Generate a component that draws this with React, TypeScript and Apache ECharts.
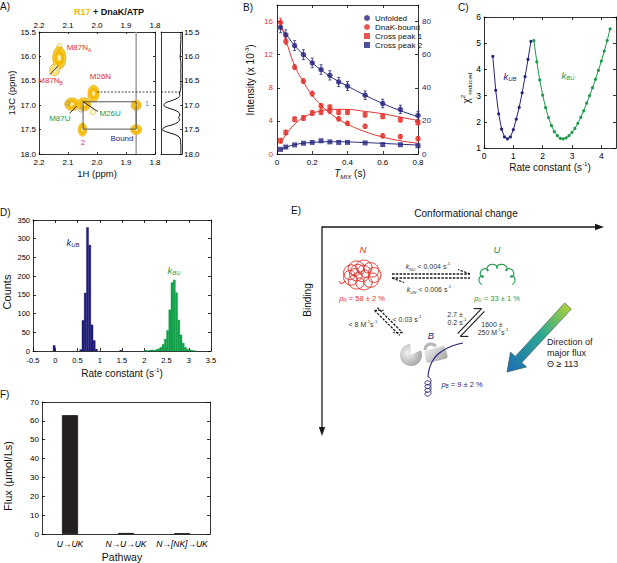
import React, { useEffect, useRef } from 'react';
import * as echarts from 'echarts';

const FONT = 'Liberation Sans, Arial, Helvetica, sans-serif';
const RED = '#E2302A';
const NAVY = '#26247C';
const GREEN = '#1E9A4A';
const GOLD = '#F6B900';
const CYAN = '#2AA7DF';
const MAGENTA = '#D8328A';

// ---------- Panel A: 2D spectrum (1H ppm, 13C ppm, 1H width, 13C width, kind) ----------
const peaksA = [
  [2.13, 16.03, 0.045, 0.46, 0],
  [2.146, 16.28, 0.034, 0.24, 3],
  [2.13, 15.8, 0.017, 0.12, 1],
  [2.012, 16.76, 0.038, 0.34, 0],
  [2.086, 16.98, 0.05, 0.26, 0],
  [2.045, 16.98, 0.048, 0.26, 0],
  [2.05, 17.5, 0.028, 0.27, 0],
  [1.865, 17.0, 0.034, 0.2, 0],
  [1.865, 17.5, 0.038, 0.2, 0],
  [2.1, 16.96, 0.017, 0.08, 2],
  [2.055, 17.1, 0.017, 0.08, 2],
  [2.014, 17.14, 0.017, 0.1, 1],
];
const labelTextA = ['{n|M87N}{sub|A}', '{n|M87N}{sub|B}', '{n|M26N}', '{n|M87U}', '{n|M26U}', '{n|1}', '{n|2}', '{n|Bound}'];
const labelColorA = [RED, RED, RED, GREEN, GREEN, CYAN, MAGENTA, NAVY];
const labelPosA = [
  [2.062, 15.81], [2.16, 16.49], [1.988, 16.42], [2.128, 17.27], [1.955, 17.17], [1.828, 16.97], [2.048, 17.76], [1.914, 17.68],
];
const boxA = [[2.048, 16.93], [1.865, 16.93], [1.865, 17.49], [2.048, 17.49], [2.048, 16.93]];
const slice1H = [[1.865, 15.5], [1.865, 18.0]];
const dashA = [[2.0, 16.73], [1.8, 16.73]];
const dashSide = [[1, 16.73], [0, 16.73]];
const connectorsA = [
  [[2.162, 16.37], [2.135, 16.2]],
  [[2.095, 17.17], [2.07, 17.02]],
  [[2.048, 16.93], [1.997, 17.13]],
];
const sidePpm = [15.5, 15.6, 15.7, 15.8, 15.9, 16.0, 16.1, 16.2, 16.3, 16.4, 16.5, 16.6, 16.7, 16.75, 16.8, 16.85, 16.9, 16.95, 17.0, 17.05, 17.1, 17.15, 17.2, 17.25, 17.3, 17.35, 17.4, 17.45, 17.5, 17.55, 17.6, 17.65, 17.7, 17.8, 17.9, 18.0];
const sideInt = [0.06, 0.05, 0.06, 0.07, 0.06, 0.09, 0.06, 0.05, 0.06, 0.05, 0.06, 0.05, 0.08, 0.12, 0.1, 0.2, 0.45, 0.78, 0.86, 0.7, 0.35, 0.15, 0.1, 0.16, 0.12, 0.2, 0.45, 0.82, 0.94, 0.72, 0.35, 0.14, 0.08, 0.06, 0.05, 0.06];

// ---------- Panel B: intensities vs mixing time ----------
const tB = [0.02, 0.05, 0.1, 0.15, 0.2, 0.25, 0.3, 0.35, 0.4, 0.5, 0.6, 0.7, 0.8];
const unfolded = [76.5, 72, 65.5, 60, 55, 51, 47.5, 43.5, 41, 35.5, 30.5, 27, 23.3];
const unfoldedErr = [3.2, 3, 3, 3, 2.9, 2.9, 2.8, 2.8, 2.7, 2.6, 2.6, 2.5, 2.5];
const dnakBound = [15.9, 13.6, 10.5, 8.8, 7.3, 5.8, 5.2, 4.25, 3.7, 3.35, 2.2, 2.1, 1.85];
const dnakErr = [0.5, 0.4, 0.3, 0.3, 0.3, 0.3, 0.3, 0.25, 0.25, 0.25, 0.25, 0.25, 0.25];
const cross1 = [1.6, 2.6, 4.2, 4.35, 4.95, 5.05, 5.65, 5.05, 5.05, 4.75, 4.55, 4.15, 3.8];
const cross1Err = [0.3, 0.3, 0.3, 0.3, 0.3, 0.3, 0.3, 0.3, 0.3, 0.3, 0.3, 0.3, 0.3];
const cross2 = [2.8, 4.2, 5.5, 6.5, 7, 8, 7.3, 7, 7, 6.7, 5.7, 5.6, 5];
const unfoldedFit = [76.5, 72.5, 65.5, 60, 55, 50.8, 47, 43.8, 41, 35.5, 30.5, 26.2, 22.5];
const boundFit = [15.8, 13.8, 10.7, 8.7, 7.1, 5.9, 4.95, 4.2, 3.6, 2.7, 2.05, 1.6, 1.3];
const cross1Fit = [1.3, 2.3, 3.6, 4.4, 4.9, 5.2, 5.35, 5.4, 5.38, 5.15, 4.85, 4.45, 4.05];
const cross2Fit = [2.5, 4, 5.6, 6.5, 7.0, 7.3, 7.4, 7.4, 7.3, 6.9, 6.4, 5.9, 5.4];

// ---------- Panel C: chi-square profiles ----------
const kUBx = [0.3, 0.4, 0.5, 0.6, 0.7, 0.8, 0.9, 1.0, 1.1, 1.2, 1.3, 1.4, 1.5, 1.6];
const kUBchi = [4.5, 3.2, 2.3, 1.72, 1.42, 1.35, 1.42, 1.7, 2.1, 2.55, 3.1, 3.72, 4.38, 5.07];
const kBUx = [1.7, 1.8, 1.9, 2.0, 2.1, 2.2, 2.3, 2.4, 2.5, 2.6, 2.7, 2.8, 2.9, 3.0, 3.1, 3.2, 3.3, 3.4, 3.5, 3.6, 3.7, 3.8, 3.9, 4.0, 4.1, 4.2, 4.3];
const kBUchi = [5.1, 4.29, 3.6, 3.02, 2.54, 2.16, 1.85, 1.62, 1.47, 1.37, 1.35, 1.39, 1.47, 1.6, 1.75, 1.94, 2.17, 2.42, 2.71, 3.0, 3.3, 3.62, 3.96, 4.32, 4.7, 5.1, 5.55];

// ---------- Panel D: histograms (bin start, count), bin width 0.05 ----------
const BIN = 0.05;
const kUBbinStart = [-0.05, 0.55, 0.6, 0.65, 0.7, 0.75, 0.8, 0.85, 0.9, 1.45];
const kUBcounts = [15, 4, 82, 155, 330, 283, 70, 28, 5, 2];
const kBUbinStart = [2.0, 2.05, 2.1, 2.15, 2.2, 2.25, 2.3, 2.35, 2.4, 2.45, 2.5, 2.55, 2.6, 2.65, 2.7, 2.75, 2.8, 2.85, 2.9, 2.95, 3.0, 3.05, 3.1];
const kBUcounts = [2, 1, 2, 3, 2, 4, 6, 10, 18, 32, 55, 110, 183, 190, 156, 83, 43, 21, 10, 5, 3, 2, 1];

// ---------- Panel F: flux per pathway ----------
const fluxCats = ['U→UK', 'N→U→UK', 'N→[NK]→UK'];
const fluxVals = [63, 0.5, 0.4];

const richSet = (size: number, color: string) => ({
  n: { fontSize: size, fill: color, color, fontFamily: FONT, lineHeight: size + 3 },
  b: { fontSize: size, fill: color, color, fontFamily: FONT, fontWeight: 'bold', lineHeight: size + 3 },
  g: { fontSize: size, fill: GOLD, color: GOLD, fontFamily: FONT, fontWeight: 'bold', lineHeight: size + 3 },
  i: { fontSize: size, fill: color, color, fontFamily: FONT, fontStyle: 'italic', lineHeight: size + 3 },
  sup: { fontSize: size * 0.62, fill: color, color, fontFamily: FONT, verticalAlign: 'top', lineHeight: size * 0.62 },
  sub: { fontSize: size * 0.62, fill: color, color, fontFamily: FONT, verticalAlign: 'bottom', lineHeight: size * 0.62 },
  subi: { fontSize: size * 0.62, fill: color, color, fontFamily: FONT, fontStyle: 'italic', verticalAlign: 'bottom', lineHeight: size * 0.62 },
});

const txt = (text: string, x: number, y: number, size: number, color = '#111', opts: any = {}) => ({
  type: 'text',
  x,
  y,
  rotation: opts.rotation || 0,
  z: 50,
  style: {
    text,
    rich: richSet(size, color),
    fontSize: size,
    fontFamily: FONT,
    fill: color,
    align: opts.align || 'center',
    verticalAlign: opts.verticalAlign || 'middle',
  },
});

function loopPts(base: (t: number) => number[], n: number, r: number, steps: number, phase = 0) {
  const pts: number[][] = [];
  for (let i = 0; i <= steps; i++) {
    const t = i / steps;
    const b = base(t);
    const th = 2 * Math.PI * n * t + phase;
    pts.push([b[0] + r * Math.cos(th), b[1] + r * Math.sin(th)]);
  }
  return pts;
}

function arrowPolygon(tx: number, ty: number, hx: number, hy: number, bodyHalf: number, headHalf: number, headLen: number) {
  const dx = hx - tx, dy = hy - ty;
  const L = Math.hypot(dx, dy);
  const ux = dx / L, uy = dy / L;
  const nx = -uy, ny = ux;
  const bx = hx - headLen * ux, by = hy - headLen * uy;
  return [
    [tx + bodyHalf * nx, ty + bodyHalf * ny],
    [bx + bodyHalf * nx, by + bodyHalf * ny],
    [bx + headHalf * nx, by + headHalf * ny],
    [hx, hy],
    [bx - headHalf * nx, by - headHalf * ny],
    [bx - bodyHalf * nx, by - bodyHalf * ny],
    [tx - bodyHalf * nx, ty - bodyHalf * ny],
  ];
}

const axisLineStyle = { color: '#000', width: 0.8 };

function valAxis(gridIndex: number, position: string, min: number, max: number, interval: number, opts: any = {}) {
  return {
    type: 'value',
    gridIndex,
    position,
    min,
    max,
    interval,
    inverse: !!opts.inverse,
    axisLine: { show: true, onZero: false, lineStyle: axisLineStyle },
    axisTick: { show: opts.ticks !== false, inside: true, length: opts.tickLen || 3, lineStyle: axisLineStyle },
    splitLine: { show: false },
    axisLabel: {
      show: !!opts.labels,
      fontSize: opts.fontSize || 8,
      color: opts.color || '#000',
      fontFamily: FONT,
      margin: opts.margin ?? 3,
      showMaxLabel: opts.showMax ?? true,
      formatter: opts.formatter,
    },
  };
}

function catAxis(gridIndex: number, position: string, labels: boolean) {
  return {
    type: 'category',
    gridIndex,
    position,
    data: fluxCats,
    axisLine: { show: true, onZero: false, lineStyle: axisLineStyle },
    axisTick: { show: false },
    axisLabel: { show: labels, interval: 0, hideOverlap: false, fontSize: 8.5, fontStyle: 'italic', color: '#000', fontFamily: FONT, margin: 5 },
  };
}

const fmt1 = (v: number) => v.toFixed(1);

function buildOption() {
  const xAxis = [
    valAxis(0, 'bottom', 1.8, 2.2, 0.1, { inverse: true, labels: true, formatter: fmt1, tickLen: 2, margin: 4 }),
    valAxis(0, 'top', 1.8, 2.2, 0.1, { inverse: true, labels: true, formatter: fmt1, tickLen: 2, margin: 3 }),
    valAxis(1, 'bottom', 0, 1, 1, { inverse: true, ticks: false }),
    valAxis(1, 'top', 0, 1, 1, { inverse: true, ticks: false }),
    valAxis(2, 'bottom', 0, 0.8, 0.2, { labels: true, margin: 4 }),
    valAxis(2, 'top', 0, 0.8, 0.2, {}),
    valAxis(3, 'bottom', 0, 4.5, 1, { labels: true, showMax: false, fontSize: 8.5, margin: 3 }),
    valAxis(3, 'top', 0, 4.5, 1, {}),
    valAxis(4, 'bottom', -0.5, 3.5, 0.5, { labels: true, fontSize: 7.5, margin: 5 }),
    valAxis(4, 'top', -0.5, 3.5, 0.5, {}),
    catAxis(5, 'bottom', true),
    catAxis(5, 'top', false),
  ];
  const yAxis = [
    valAxis(0, 'left', 15.5, 18, 0.5, { inverse: true, labels: true, formatter: fmt1, tickLen: 2, margin: 3 }),
    valAxis(0, 'right', 15.5, 18, 0.5, { inverse: true, tickLen: 2 }),
    valAxis(1, 'left', 15.5, 18, 0.5, { inverse: true, ticks: false }),
    valAxis(1, 'right', 15.5, 18, 0.5, { inverse: true, labels: true, formatter: fmt1, tickLen: 2, margin: 2 }),
    valAxis(2, 'left', 0, 18, 4, { labels: true, color: RED, showMax: false, margin: 4 }),
    valAxis(2, 'right', 0, 90, 20, { labels: true, color: NAVY, showMax: false, margin: 4 }),
    valAxis(3, 'left', 1, 6, 1, { labels: true, fontSize: 8.5, margin: 3 }),
    valAxis(3, 'right', 1, 6, 1, {}),
    valAxis(4, 'left', 0, 350, 50, { labels: true, fontSize: 7.5, margin: 3 }),
    valAxis(4, 'right', 0, 350, 50, {}),
    valAxis(5, 'left', 0, 70, 10, { labels: true, fontSize: 8, margin: 3 }),
    valAxis(5, 'right', 0, 70, 10, {}),
  ];

  const errRender = (color: string) => (params: any, api: any) => {
    const x = api.value(0), y = api.value(1), e = api.value(2);
    const top = api.coord([x, y + e]);
    const bot = api.coord([x, y - e]);
    const cap = 1.5;
    const st = { stroke: color, lineWidth: 0.8 };
    return {
      type: 'group',
      children: [
        { type: 'line', shape: { x1: top[0], y1: top[1], x2: bot[0], y2: bot[1] }, style: st },
        { type: 'line', shape: { x1: top[0] - cap, y1: top[1], x2: top[0] + cap, y2: top[1] }, style: st },
        { type: 'line', shape: { x1: bot[0] - cap, y1: bot[1], x2: bot[0] + cap, y2: bot[1] }, style: st },
      ],
    };
  };

  const histRender = (color: string) => (params: any, api: any) => {
    const x0 = api.value(0), cnt = api.value(1);
    const p0 = api.coord([x0, cnt]);
    const p1 = api.coord([x0 + BIN, 0]);
    return {
      type: 'rect',
      shape: { x: p0[0], y: p0[1], width: p1[0] - p0[0], height: p1[1] - p0[1] },
      style: { fill: color, stroke: color, lineWidth: 0.3 },
    };
  };

  const peakRender = (params: any, api: any) => {
    const x = api.value(0), y = api.value(1), wx = api.value(2), wy = api.value(3), kind = api.value(4);
    const c = api.coord([x, y]);
    const s = api.size([wx, wy], [x, y]);
    const rx = Math.abs(s[0]) / 2, ry = Math.abs(s[1]) / 2;
    const el = (k: number, style: any) => ({ type: 'ellipse', shape: { cx: c[0], cy: c[1], rx: rx * k, ry: ry * k }, style });
    if (kind === 1) return el(1, { fill: 'none', stroke: '#EEB300', lineWidth: 0.8 });
    if (kind === 2) return el(1, { fill: 'none', stroke: '#9C9C9C', lineWidth: 0.8 });
    if (kind === 3)
      return {
        type: 'group',
        children: [
          el(1, { fill: '#FCE6A0', stroke: '#EDB300', lineWidth: 0.8 }),
          el(0.55, { fill: '#FDF0C4', stroke: '#EDB300', lineWidth: 0.6 }),
        ],
      };
    return {
      type: 'group',
      children: [
        el(1, { fill: '#F9CB35', stroke: '#E7A900', lineWidth: 0.8 }),
        el(0.66, { fill: '#F6BC00', stroke: '#E7A900', lineWidth: 0.5 }),
        el(0.3, { fill: '#FDE9A2', stroke: 'none' }),
      ],
    };
  };

  const labelRender = (params: any, api: any) => {
    const idx = api.value(2);
    const c = api.coord([api.value(0), api.value(1)]);
    return {
      type: 'text',
      x: c[0],
      y: c[1],
      style: {
        text: labelTextA[idx],
        rich: richSet(8, labelColorA[idx]),
        fill: labelColorA[idx],
        fontSize: 8,
        fontFamily: FONT,
        align: 'center',
        verticalAlign: 'middle',
      },
    };
  };

  const circle = { symbol: 'circle', symbolSize: 5.5 };
  const square = { symbol: 'rect', symbolSize: 5 };

  const series: any[] = [
    // Panel A
    { type: 'custom', xAxisIndex: 0, yAxisIndex: 0, clip: true, renderItem: peakRender, data: peaksA, z: 2, silent: true },
    { type: 'line', xAxisIndex: 0, yAxisIndex: 0, data: slice1H, symbol: 'none', lineStyle: { color: '#A0A0A0', width: 1.5 }, z: 1, silent: true },
    { type: 'line', xAxisIndex: 0, yAxisIndex: 0, data: boxA, symbol: 'none', lineStyle: { color: '#555', width: 1 }, z: 3, silent: true },
    { type: 'line', xAxisIndex: 0, yAxisIndex: 0, data: dashA, symbol: 'none', lineStyle: { color: '#111', width: 0.8, type: [2, 1.5] }, z: 3, silent: true },
    { type: 'lines', coordinateSystem: 'cartesian2d', xAxisIndex: 0, yAxisIndex: 0, data: connectorsA.map((c) => ({ coords: c })), lineStyle: { color: '#000', width: 0.8, opacity: 1 }, z: 4, silent: true },
    { type: 'custom', xAxisIndex: 0, yAxisIndex: 0, renderItem: labelRender, data: labelPosA.map((p, i) => [p[0], p[1], i]), z: 5, silent: true },
    { type: 'line', xAxisIndex: 2, yAxisIndex: 2, data: sidePpm.map((p, i) => [sideInt[i], p]), symbol: 'none', smooth: 0.4, lineStyle: { color: '#111', width: 1 }, silent: true },
    { type: 'line', xAxisIndex: 2, yAxisIndex: 2, data: dashSide, symbol: 'none', lineStyle: { color: '#111', width: 0.8, type: [2, 1.5] }, silent: true },

    // Panel B fits
    { type: 'line', name: 'fitU', xAxisIndex: 4, yAxisIndex: 5, data: tB.map((t, i) => [t, unfoldedFit[i]]), symbol: 'none', smooth: true, lineStyle: { color: NAVY, width: 1 }, z: 2, silent: true },
    { type: 'line', name: 'fitB', xAxisIndex: 4, yAxisIndex: 4, data: tB.map((t, i) => [t, boundFit[i]]), symbol: 'none', smooth: true, lineStyle: { color: RED, width: 1 }, z: 2, silent: true },
    { type: 'line', name: 'fit1', xAxisIndex: 4, yAxisIndex: 4, data: tB.map((t, i) => [t, cross1Fit[i]]), symbol: 'none', smooth: true, lineStyle: { color: RED, width: 1 }, z: 2, silent: true },
    { type: 'line', name: 'fit2', xAxisIndex: 4, yAxisIndex: 5, data: tB.map((t, i) => [t, cross2Fit[i]]), symbol: 'none', smooth: true, lineStyle: { color: NAVY, width: 1 }, z: 2, silent: true },
    // error bars
    { type: 'custom', xAxisIndex: 4, yAxisIndex: 5, renderItem: errRender(NAVY), data: tB.map((t, i) => [t, unfolded[i], unfoldedErr[i]]), z: 3, silent: true },
    { type: 'custom', xAxisIndex: 4, yAxisIndex: 4, renderItem: errRender(RED), data: tB.map((t, i) => [t, dnakBound[i], dnakErr[i]]), z: 3, silent: true },
    { type: 'custom', xAxisIndex: 4, yAxisIndex: 4, renderItem: errRender(RED), data: tB.map((t, i) => [t, cross1[i], cross1Err[i]]), z: 3, silent: true },
    // points
    { type: 'scatter', name: 'Unfolded', xAxisIndex: 4, yAxisIndex: 5, data: tB.map((t, i) => [t, unfolded[i]]), ...circle, itemStyle: { color: NAVY }, z: 4 },
    { type: 'scatter', name: 'DnaK-bound', xAxisIndex: 4, yAxisIndex: 4, data: tB.map((t, i) => [t, dnakBound[i]]), ...circle, itemStyle: { color: RED }, z: 4 },
    { type: 'scatter', name: 'Cross peak 1', xAxisIndex: 4, yAxisIndex: 4, data: tB.map((t, i) => [t, cross1[i]]), ...square, itemStyle: { color: RED }, z: 4 },
    { type: 'scatter', name: 'Cross peak 2', xAxisIndex: 4, yAxisIndex: 5, data: tB.map((t, i) => [t, cross2[i]]), ...square, itemStyle: { color: NAVY }, z: 4 },

    // Panel C
    { type: 'line', xAxisIndex: 6, yAxisIndex: 6, data: kUBx.map((x, i) => [x, kUBchi[i]]), symbol: 'circle', symbolSize: 3.2, lineStyle: { color: NAVY, width: 1 }, itemStyle: { color: NAVY }, silent: true },
    { type: 'line', xAxisIndex: 6, yAxisIndex: 6, data: kBUx.map((x, i) => [x, kBUchi[i]]), symbol: 'circle', symbolSize: 3.2, lineStyle: { color: GREEN, width: 1 }, itemStyle: { color: GREEN }, silent: true },

    // Panel D
    { type: 'custom', xAxisIndex: 8, yAxisIndex: 8, renderItem: histRender('#201C78'), data: kUBbinStart.map((x, i) => [x, kUBcounts[i]]), silent: true },
    { type: 'custom', xAxisIndex: 8, yAxisIndex: 8, renderItem: histRender('#14A04A'), data: kBUbinStart.map((x, i) => [x, kBUcounts[i]]), silent: true },

    // Panel F
    { type: 'bar', xAxisIndex: 10, yAxisIndex: 10, data: fluxVals, barWidth: 16, itemStyle: { color: '#231F20', borderColor: '#000', borderWidth: 0.6 }, silent: true },
  ];

  // ---------- Panel E diagram ----------
  const nRing1 = loopPts((t) => [362 + 13 * Math.cos(2 * Math.PI * t), 275 + 9 * Math.sin(2 * Math.PI * t)], 10, 6, 420);
  const nRing2 = loopPts((t) => [360 + 6 * Math.cos(2 * Math.PI * t + 1), 273 + 4 * Math.sin(2 * Math.PI * t + 1)], 5, 5, 220, 1);
  const uArc = loopPts((t) => {
    const th = 3.49 - 3.84 * t;
    return [497 + 16 * Math.cos(th), 278 - 12 * Math.sin(th)];
  }, 6, 2.3, 260, Math.PI / 2);
  const chainTop = [[463, 343], [452, 346], [444, 350], [437, 355], [432, 362], [429, 370], [428, 377]];
  const chainCoil = loopPts((t) => [428, 380 + 15 * t], 4, 3, 140, -Math.PI / 2);
  const fluxArrow = arrowPolygon(568, 306, 507, 372, 4.5, 11, 17);

  const blk = '#1A1A1A';
  const ln = (x1: number, y1: number, x2: number, y2: number, dashed: boolean, w = 1.1) => ({
    type: 'line',
    z: 40,
    shape: { x1, y1, x2, y2 },
    style: { stroke: blk, lineWidth: w, lineDash: dashed ? [2.5, 1.3] : null },
  });

  const graphic: any[] = [
    // panel letters
    txt('{n|A)}', 0, 0, 10, '#111', { align: 'left', verticalAlign: 'top' }),
    txt('{n|B)}', 243, 1, 10, '#111', { align: 'left', verticalAlign: 'top' }),
    txt('{n|C)}', 458, 1, 10, '#111', { align: 'left', verticalAlign: 'top' }),
    txt('{n|D)}', 0, 206, 10, '#111', { align: 'left', verticalAlign: 'top' }),
    txt('{n|E)}', 291, 204, 10, '#111', { align: 'left', verticalAlign: 'top' }),
    txt('{n|F)}', 0, 388, 10, '#111', { align: 'left', verticalAlign: 'top' }),
    // Panel A texts
    txt('{g|R17}{b| + DnaK/ATP}', 109, 12, 9, '#111'),
    txt('{n|1H (ppm)}', 97, 173, 9.5, '#111'),
    txt('{n|13C (ppm)}', 11, 93, 9.5, '#111', { rotation: Math.PI / 2 }),
    // Panel B texts
    txt('{n|Intensity (x 10}{sup|-3}{n|)}', 250, 80, 10, '#111', { rotation: Math.PI / 2 }),
    txt('{i|T}{subi|MIX}{n| (s)}', 350, 173, 10, '#111'),
    // Panel C texts
    txt('{n|χ}{sup|2}{sub|reduced}', 466, 88, 10, '#111', { rotation: Math.PI / 2 }),
    txt('{n|Rate constant (s}{sup|-1}{n|)}', 550, 167, 10, '#111'),
    txt('{i|k}{subi|UB}', 510, 76, 9.5, NAVY),
    txt('{i|k}{subi|BU}', 568, 75, 9.5, GREEN),
    // Panel D texts
    txt('{n|Counts}', 7, 292, 11, '#111', { rotation: Math.PI / 2 }),
    txt('{n|Rate constant (s}{sup|-1}{n|)}', 122, 373, 10, '#111'),
    txt('{i|k}{subi|UB}', 73, 242, 9.5, NAVY),
    txt('{i|k}{subi|BU}', 174, 270, 9.5, GREEN),
    // Panel F texts
    txt('{n|Flux (μmol/Ls)}', 7.5, 476, 11, '#111', { rotation: Math.PI / 2 }),
    txt('{n|Pathway}', 122, 557, 10.5, '#111'),

    // Panel E frame arrows
    txt('{n|Conformational change}', 466, 213, 10, '#111'),
    txt('{n|Binding}', 307, 300, 10, '#111', { rotation: Math.PI / 2 }),
    { type: 'line', shape: { x1: 322, y1: 227, x2: 597, y2: 227 }, style: { stroke: blk, lineWidth: 1.3 }, z: 30 },
    { type: 'polygon', shape: { points: [[604, 227], [595, 223.8], [595, 230.2]] }, style: { fill: blk }, z: 30 },
    { type: 'line', shape: { x1: 322, y1: 226.4, x2: 322, y2: 429 }, style: { stroke: blk, lineWidth: 1.3 }, z: 30 },
    { type: 'polygon', shape: { points: [[322, 436], [318.8, 427], [325.2, 427]] }, style: { fill: blk }, z: 30 },

    // N state
    { type: 'polyline', shape: { points: nRing1 }, style: { stroke: RED, lineWidth: 1, fill: null }, z: 30 },
    { type: 'polyline', shape: { points: nRing2 }, style: { stroke: RED, lineWidth: 1, fill: null }, z: 30 },
    { type: 'polyline', shape: { points: [[346, 281], [341, 284], [339, 281]] }, style: { stroke: RED, lineWidth: 1, fill: null }, z: 30 },
    txt('{i|N}', 363, 249, 9.5, RED),
    txt('{i|p}{subi|N}{n| = 58 ± 2 %}', 362, 298, 7.5, RED),
    // U state
    { type: 'polyline', shape: { points: uArc }, style: { stroke: GREEN, lineWidth: 1.1, fill: null }, z: 30 },
    txt('{i|U}', 497, 249, 9.5, GREEN),
    txt('{i|p}{subi|U}{n| = 33 ± 1 %}', 497, 298, 7.5, GREEN),

    // N <-> U dashed double arrow
    ln(392, 274, 470, 274, true, 1.4),
    ln(470, 274, 458, 269.5, true, 1.2),
    ln(392, 278, 470, 278, true, 1.4),
    ln(392, 278, 404, 282.5, true, 1.2),
    txt('{i|k}{subi|NU}{n| < 0.004 s}{sup|-1}', 428, 266, 7, '#333'),
    txt('{i|k}{subi|UN}{n| < 0.006 s}{sup|-1}', 429, 289, 7, '#333'),

    // N <-> B dashed double arrow
    ln(377.4, 307.6, 402.4, 332.6, true, 1.3),
    ln(402.4, 332.6, 393.5, 332.6, true, 1.1),
    ln(374.6, 310.4, 399.6, 335.4, true, 1.3),
    ln(374.6, 310.4, 383.5, 310.4, true, 1.1),
    txt('{n|< 8 M}{sup|-1}{n|s}{sup|-1}', 363, 324, 7, '#333'),
    txt('{n|< 0.03 s}{sup|-1}', 407, 319, 7, '#333'),

    // U <-> B solid double arrow
    ln(484.4, 311.4, 460.4, 336.4, false, 1.1),
    ln(460.4, 336.4, 468.4, 336.4, false, 1.1),
    ln(481.6, 308.6, 457.6, 333.6, false, 1.1),
    ln(481.6, 308.6, 473.6, 308.6, false, 1.1),
    txt('{n|2.7 ±}', 455, 314, 7, '#333'),
    txt('{n|0.2 s}{sup|-1}', 457, 322, 7, '#333'),
    txt('{n|1600 ±}', 492, 324, 7, '#333'),
    txt('{n|250 M}{sup|-1}{n|s}{sup|-1}', 493, 332, 7, '#333'),

    // B state: DnaK and chain
    {
      type: 'sector',
      z: 30,
      shape: { cx: 411, cy: 355, r: 11, r0: 0, startAngle: -Math.PI / 3 + 0.6, endAngle: -Math.PI / 3 - 0.6 + 2 * Math.PI, clockwise: true },
      style: {
        fill: new echarts.graphic.RadialGradient(0.35, 0.4, 0.75, [
          { offset: 0, color: '#F2F2F2' },
          { offset: 1, color: '#9C9C9C' },
        ]),
      },
    },
    {
      type: 'rect',
      z: 30,
      x: 436,
      y: 355,
      rotation: 0.25,
      shape: { x: -11, y: -7, width: 22, height: 13, r: 3 },
      style: {
        fill: new echarts.graphic.LinearGradient(0, 0, 1, 1, [
          { offset: 0, color: '#EDEDED' },
          { offset: 1, color: '#A5A5A5' },
        ]),
      },
    },
    { type: 'arc', z: 30, shape: { cx: 431, cy: 350, r: 6, startAngle: Math.PI, endAngle: Math.PI * 1.8 }, style: { stroke: '#B5B5B5', lineWidth: 3, fill: null } },
    { type: 'polyline', z: 31, shape: { points: chainTop, smooth: 0.5 }, style: { stroke: NAVY, lineWidth: 1.1, fill: null } },
    { type: 'polyline', z: 31, shape: { points: chainCoil }, style: { stroke: NAVY, lineWidth: 1, fill: null } },
    txt('{i|B}', 431, 335, 9.5, NAVY),
    txt('{i|p}{subi|B}{n| = 9 ± 2 %}', 462, 384, 7.5, NAVY),

    // flux arrow
    {
      type: 'polygon',
      z: 30,
      shape: { points: fluxArrow },
      style: {
        fill: new echarts.graphic.LinearGradient(1, 0, 0, 1, [
          { offset: 0, color: '#B9D531' },
          { offset: 0.45, color: '#2FA98F' },
          { offset: 1, color: '#1C6DB6' },
        ]),
        stroke: '#2F4F5A',
        lineWidth: 0.6,
      },
    },
    txt('{n|Direction of}', 547, 342, 9, '#222', { align: 'left' }),
    txt('{n|major flux}', 547, 353, 9, '#222', { align: 'left' }),
    txt('{n|Θ ≥ 113}', 547, 364, 9, '#222', { align: 'left' }),
  ];

  return {
    animation: false,
    backgroundColor: '#ffffff',
    textStyle: { fontFamily: FONT },
    grid: [
      { left: 39, top: 32, width: 116, height: 122 },
      { left: 161, top: 32, width: 21, height: 122 },
      { left: 277, top: 5, width: 141, height: 149 },
      { left: 484, top: 17, width: 132, height: 131 },
      { left: 33, top: 220, width: 178, height: 131 },
      { left: 42, top: 402, width: 168, height: 132 },
    ],
    legend: {
      left: 359,
      top: 9,
      orient: 'vertical',
      itemWidth: 6,
      itemHeight: 6,
      itemGap: 1,
      selectedMode: false,
      textStyle: { fontSize: 8, fontFamily: FONT, color: '#111' },
      data: [
        { name: 'Unfolded', icon: 'circle' },
        { name: 'DnaK-bound', icon: 'circle' },
        { name: 'Cross peak 1', icon: 'rect' },
        { name: 'Cross peak 2', icon: 'rect' },
      ],
    },
    xAxis,
    yAxis,
    series,
    graphic,
  };
}

export default function App() {
  const ref = useRef<HTMLDivElement>(null);
  useEffect(() => {
    document.body.style.margin = '0';
    if (!ref.current) return;
    const chart = echarts.init(ref.current, undefined, { renderer: 'svg' });
    chart.setOption(buildOption() as any);
    return () => chart.dispose();
  }, []);
  return <div ref={ref} style={{ width: 617, height: 563 }} />;
}
